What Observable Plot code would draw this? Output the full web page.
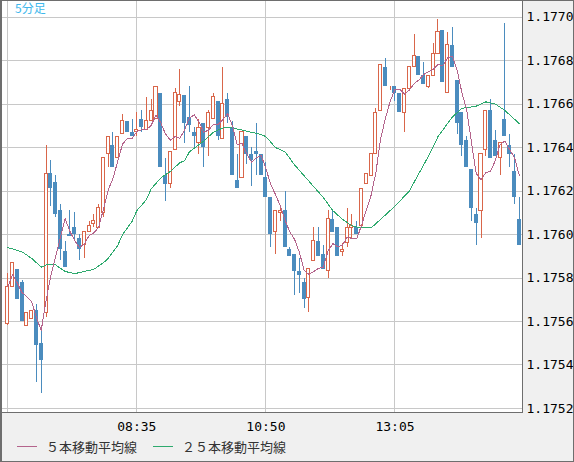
<!DOCTYPE html>
<html><head><meta charset="utf-8">
<script src="https://cdn.jsdelivr.net/npm/d3@7"></script>
<script src="https://cdn.jsdelivr.net/npm/@observablehq/plot@0.6"></script>
<style>
html,body{margin:0;padding:0;background:#f0f0f0;}
#wrap{position:relative;width:574px;height:462px;background:#f0f0f0;overflow:hidden;}
#chart svg{display:block;}
#border{position:absolute;left:0;top:0;width:574px;height:462px;box-sizing:border-box;border:1px solid #6e6e6e;border-left-width:2px;pointer-events:none;}
#title{position:absolute;left:15px;top:0px;font:12px "Noto Sans CJK JP";color:#40b8ec;line-height:16px;}
.lg-line{position:absolute;top:446px;height:1px;width:20px;}
.lg-text{position:absolute;top:437px;height:20px;line-height:20px;font:13px "Noto Sans CJK JP";color:#333;white-space:nowrap;}
</style></head>
<body>
<div id="wrap">
  <div id="chart"></div>
  <div id="title">5分足</div>
  <div class="lg-line" style="left:17px;background:#b4648c"></div>
  <div class="lg-text" style="left:46px">５本移動平均線</div>
  <div class="lg-line" style="left:153px;background:#2eaa6e"></div>
  <div class="lg-text" style="left:182px">２５本移動平均線</div>
  <div id="border"></div>
</div>
<script>
const opens = [1.17559,1.17576,1.17584,1.17578,1.17558,1.17561,1.17565,1.17550,1.17564,1.17628,
1.17624,1.17611,1.17592,1.17600,1.17603,1.17598,1.17595,1.17601,1.17605,1.17603,
1.17610,1.17637,1.17641,1.17635,1.17646,1.17652,1.17647,1.17647,1.17653,1.17648,
1.17652,1.17653,1.17665,1.17627,1.17623,1.17639,1.17661,1.17664,1.17654,1.17647,
1.17642,1.17651,1.17649,1.17653,1.17661,1.17644,1.17662,1.17649,1.17625,1.17626,
1.17645,1.17637,1.17638,1.17637,1.17626,1.17617,1.17601,1.17610,1.17611,1.17593,
1.17591,1.17583,1.17578,1.17571,1.17588,1.17597,1.17591,1.17583,1.17607,1.17603,
1.17592,1.17596,1.17603,1.17603,1.17604,1.17623,1.17627,1.17637,1.17657,1.17677,
1.17667,1.17668,1.17665,1.17656,1.17667,1.17677,1.17682,1.17673,1.17668,1.17673,
1.17683,1.17694,1.17665,1.17687,1.17671,1.17656,1.17643,1.17630,1.17609,1.17611,
1.17639,1.17657,1.17643,1.17635,1.17653,1.17641,1.17629,1.17607];
const highs = [1.17582,1.17587,1.17584,1.17579,1.17564,1.17565,1.17568,1.17556,1.17641,1.17634,
1.17627,1.17614,1.17597,1.17611,1.17610,1.17600,1.17601,1.17606,1.17609,1.17614,
1.17635,1.17645,1.17647,1.17645,1.17655,1.17652,1.17653,1.17656,1.17657,1.17663,
1.17662,1.17668,1.17665,1.17635,1.17638,1.17667,1.17676,1.17664,1.17668,1.17649,
1.17653,1.17651,1.17657,1.17665,1.17661,1.17677,1.17665,1.17652,1.17637,1.17648,
1.17645,1.17640,1.17651,1.17637,1.17633,1.17617,1.17611,1.17612,1.17620,1.17594,
1.17591,1.17589,1.17580,1.17584,1.17603,1.17603,1.17595,1.17611,1.17611,1.17603,
1.17596,1.17612,1.17609,1.17606,1.17621,1.17628,1.17637,1.17658,1.17678,1.17681,
1.17668,1.17668,1.17665,1.17667,1.17677,1.17692,1.17682,1.17679,1.17673,1.17688,
1.17699,1.17694,1.17693,1.17695,1.17671,1.17656,1.17645,1.17630,1.17612,1.17637,
1.17657,1.17662,1.17648,1.17642,1.17697,1.17646,1.17637,1.17617];
const lows = [1.17558,1.17576,1.17570,1.17560,1.17558,1.17561,1.17532,1.17527,1.17562,1.17613,
1.17608,1.17588,1.17585,1.17599,1.17597,1.17588,1.17589,1.17601,1.17603,1.17603,
1.17608,1.17631,1.17631,1.17635,1.17646,1.17647,1.17645,1.17645,1.17647,1.17648,
1.17652,1.17653,1.17631,1.17615,1.17621,1.17639,1.17659,1.17642,1.17647,1.17639,
1.17637,1.17631,1.17636,1.17653,1.17643,1.17644,1.17651,1.17627,1.17621,1.17626,
1.17632,1.17622,1.17627,1.17627,1.17617,1.17594,1.17591,1.17606,1.17594,1.17590,
1.17572,1.17573,1.17566,1.17564,1.17588,1.17590,1.17584,1.17580,1.17601,1.17590,
1.17590,1.17594,1.17598,1.17600,1.17603,1.17623,1.17627,1.17637,1.17657,1.17668,
1.17666,1.17661,1.17656,1.17647,1.17667,1.17677,1.17673,1.17669,1.17667,1.17673,
1.17683,1.17670,1.17665,1.17677,1.17646,1.17636,1.17631,1.17606,1.17595,1.17598,
1.17636,1.17635,1.17636,1.17627,1.17645,1.17631,1.17614,1.17595];
const closes = [1.17576,1.17587,1.17570,1.17560,1.17564,1.17565,1.17549,1.17542,1.17628,1.17621,
1.17609,1.17593,1.17585,1.17599,1.17600,1.17593,1.17601,1.17604,1.17606,1.17612,
1.17635,1.17645,1.17631,1.17645,1.17652,1.17647,1.17645,1.17648,1.17649,1.17652,
1.17657,1.17668,1.17631,1.17623,1.17638,1.17665,1.17664,1.17651,1.17650,1.17645,
1.17649,1.17640,1.17656,1.17663,1.17645,1.17660,1.17654,1.17627,1.17621,1.17647,
1.17637,1.17634,1.17637,1.17627,1.17617,1.17600,1.17611,1.17611,1.17594,1.17590,
1.17583,1.17581,1.17570,1.17584,1.17597,1.17590,1.17584,1.17607,1.17601,1.17590,
1.17593,1.17603,1.17604,1.17600,1.17621,1.17628,1.17637,1.17656,1.17678,1.17668,
1.17667,1.17665,1.17656,1.17667,1.17677,1.17682,1.17673,1.17669,1.17673,1.17683,
1.17693,1.17670,1.17687,1.17677,1.17651,1.17641,1.17631,1.17612,1.17605,1.17637,
1.17657,1.17635,1.17636,1.17642,1.17645,1.17637,1.17617,1.17595];

const ma25Bars = [0,3,5,7,8,10,12,14,16,18,20,21,22,23,24,26,27,29,30,32,34,36,37,38,41,43,45,47,49,51,53,54,56,58,60,62,64,66,68,70,72,74,76,77,79,81,84,86,87,88,90,93,95,98,100,102,104,107];
const ma25Vals = [1.17594,1.17592,1.17589,1.17585,1.17586,1.17586,1.17583,1.17582,1.17583,1.17584,
1.17587,1.17589,1.17592,1.17595,1.17600,1.17606,1.17611,1.17616,1.17621,1.17626,
1.17629,1.17633,1.17634,1.17638,1.17643,1.17647,1.17649,1.17649,1.17648,1.17647,
1.17646,1.17645,1.17640,1.17638,1.17632,1.17627,1.17622,1.17617,1.17611,1.17607,
1.17604,1.17603,1.17603,1.17605,1.17609,1.17613,1.17620,1.17628,1.17632,1.17636,
1.17645,1.17654,1.17658,1.17659,1.17661,1.17660,1.17657,1.17651];

const yTicks = [1.1752,1.1754,1.1756,1.1758,1.1760,1.1762,1.1764,1.1766,1.1768,1.1770];
const xGridBars = [0,27,54,81];
const xLabelBars = [27,54,81];
const xLabels = ["08:35","10:50","13:05"];

const UP = "#d9664a", DOWN = "#4b8cbe", MA5 = "#b4648c", MA25 = "#2eaa6e", GRID = "#c8c8c8";

const bars = closes.map((c, i) => ({i, o: opens[i], h: highs[i], l: lows[i], c}));
const ups = bars.filter(d => d.c >= d.o);
const downs = bars.filter(d => d.c < d.o);
const ma25 = ma25Bars.map((b, j) => ({b, v: ma25Vals[j]}));

const chart = Plot.plot({
  width: 574, height: 437,
  marginLeft: 1, marginRight: 52, marginTop: 0, marginBottom: 25,
  x: {type: "linear", domain: [-1.318, 107.68], axis: null},
  y: {domain: [1.1751816, 1.1770759], axis: null},
  style: {background: "transparent", fontFamily: "DejaVu Sans Mono", fontSize: "13px", color: "#000", shapeRendering: "crispEdges"},
  marks: [
    Plot.frame({fill: "white"}),
    Plot.gridY({ticks: yTicks, stroke: GRID, strokeOpacity: 1}),
    Plot.gridX({ticks: xGridBars, stroke: GRID, strokeOpacity: 1}),
    Plot.ruleX(downs, {x: "i", y1: "l", y2: "h", stroke: DOWN}),
    Plot.ruleX(ups, {x: "i", y1: "l", y2: "h", stroke: UP}),
    Plot.rect(downs, {x1: d => d.i - 0.42, x2: d => d.i + 0.42, y1: "o", y2: "c", fill: DOWN}),
    Plot.rect(ups, {x1: d => d.i - 0.32, x2: d => d.i + 0.32, y1: "o", y2: "c", fill: "white", stroke: UP}),
    Plot.line(ma25, {x: "b", y: "v", stroke: MA25, strokeWidth: 1}),
    Plot.lineY(closes, Plot.windowY({k: 5, anchor: "end"}, {x: (d, i) => i, y: d => d, stroke: MA5, strokeWidth: 1})),
    Plot.frame({stroke: "#6e6e6e"}),
    Plot.axisY({ticks: yTicks, anchor: "right", tickSize: 0, tickPadding: 4, tickFormat: d => d.toFixed(4), fill: "#000"}),
    Plot.axisX({ticks: xLabelBars, anchor: "bottom", tickSize: 0, tickPadding: 9, tickFormat: d => xLabels[xLabelBars.indexOf(d)], fill: "#000"})
  ]
});
document.getElementById("chart").appendChild(chart);
</script>
</body></html>
